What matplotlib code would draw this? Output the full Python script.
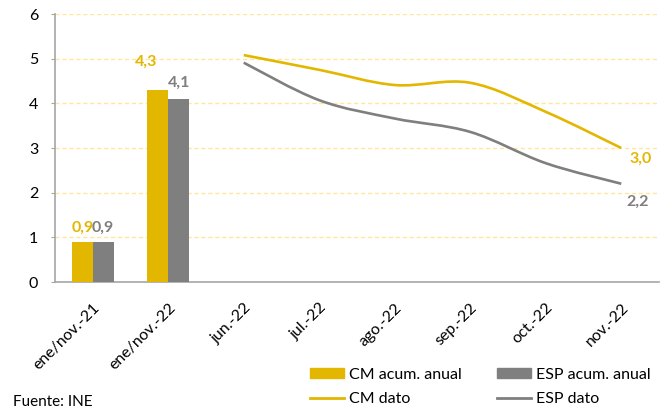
import numpy as np
import matplotlib.pyplot as plt
from matplotlib.path import Path
from matplotlib.patches import PathPatch, Patch
from matplotlib.lines import Line2D
import matplotlib.transforms as mtransforms

plt.rcParams['font.family'] = ['Lato', 'DejaVu Sans']

# data
categories = ['ene/nov.-21', 'ene/nov.-22', 'jun.-22', 'jul.-22', 'ago.-22',
              'sep.-22', 'oct.-22', 'nov.-22']
cm_acum = [0.9, 4.3]
esp_acum = [0.9, 4.1]
cm_dato = [5.08, 4.75, 4.41, 4.46, 3.81, 3.0]
esp_dato = [4.91, 4.07, 3.66, 3.36, 2.66, 2.2]

YELLOW = '#E3B700'
GRAY = '#7F7F7F'


def smooth_path(xs, ys):
    # Excel-style smoothed line: cubic bezier segments (Catmull-Rom control points)
    pts = np.column_stack([xs, ys]).astype(float)
    n = len(pts)
    verts = [pts[0]]
    codes = [Path.MOVETO]
    for i in range(n - 1):
        p0 = pts[i - 1] if i > 0 else pts[i]
        p1 = pts[i]
        p2 = pts[i + 1]
        p3 = pts[i + 2] if i + 2 < n else pts[i + 1]
        c1 = p1 + (p2 - p0) / 6.0
        c2 = p2 - (p3 - p1) / 6.0
        verts += [c1, c2, p2]
        codes += [Path.CURVE4] * 3
    return Path(verts, codes)


fig = plt.figure(figsize=(6.65, 4.11), dpi=100)
ax = fig.add_axes([55 / 665, 1 - 282 / 411, 604 / 665, 268 / 411])

x = np.arange(len(categories))
w = 0.278
bx = x[:len(cm_acum)]
ax.bar(bx - w / 2, cm_acum, w, color=YELLOW, zorder=3)
ax.bar(bx + w / 2, esp_acum, w, color=GRAY, zorder=3)

lx = x[len(cm_acum):]
for vals, col in [(cm_dato, YELLOW), (esp_dato, GRAY)]:
    ax.add_patch(PathPatch(smooth_path(lx, vals), facecolor='none', edgecolor=col,
                           lw=1.9, capstyle='butt', zorder=4))

# data labels
lab_kw = dict(textcoords='offset pixels', ha='center', va='center',
              fontsize=11.5, fontweight='bold')
ax.annotate('0,9', (bx[0] - w / 2, cm_acum[0]), xytext=(0, 14), color=YELLOW, **lab_kw)
ax.annotate('0,9', (bx[0] + w / 2, esp_acum[0]), xytext=(0, 14), color=GRAY, **lab_kw)
ax.annotate('4,3', (bx[1] - w / 2, cm_acum[1]), xytext=(-12, 28), color=YELLOW, **lab_kw)
ax.annotate('4,1', (bx[1] + w / 2, esp_acum[1]), xytext=(0, 16), color=GRAY, **lab_kw)
ax.annotate('3,0', (lx[-1], cm_dato[-1]), xytext=(19, -11), color=YELLOW, **lab_kw)
ax.annotate('2,2', (lx[-1], esp_dato[-1]), xytext=(16, -18), color=GRAY, **lab_kw)

ax.set_xlim(-0.5, len(categories) - 0.5)
ax.set_ylim(0, 6)
ax.set_yticks(range(0, 7))
ax.grid(axis='y', color='#FFE699', linestyle=(0, (3, 2)), lw=1.0, zorder=0)
ax.set_axisbelow(True)

for s in ['top', 'right']:
    ax.spines[s].set_visible(False)
ax.spines['left'].set_color('#A6A6A6')
ax.spines['bottom'].set_color('#A6A6A6')
ax.spines['left'].set_linewidth(1.2)
ax.spines['bottom'].set_linewidth(1.2)

ax.tick_params(axis='y', length=3, color='#A6A6A6', labelsize=11.5, pad=9)
ax.tick_params(axis='x', length=0, labelsize=11.5, pad=17)
ax.set_xticks(x)
ax.set_xticklabels(categories, rotation=45, ha='right', va='center',
                   rotation_mode='anchor')
offset = mtransforms.ScaledTranslation(5 / 100, 0, fig.dpi_scale_trans)
for lbl in ax.get_xticklabels():
    lbl.set_transform(lbl.get_transform() + offset)

handles = [Patch(color=YELLOW), Line2D([], [], color=YELLOW, lw=2),
           Patch(color=GRAY), Line2D([], [], color=GRAY, lw=2)]
labels = ['CM acum. anual', 'CM dato', 'ESP acum. anual', 'ESP dato']
fig.legend(handles, labels, ncol=2, loc='upper left',
           bbox_to_anchor=(302 / 665, 1 - 360 / 411), frameon=False,
           fontsize=11.5, handlelength=2.1, handleheight=0.6,
           handletextpad=0.35, columnspacing=2.2, labelspacing=0.65, borderpad=0)

fig.text(13 / 665, 1 - 402 / 411, 'Fuente: INE', fontsize=11, va='center', ha='left')

fig.savefig('out.png', dpi=100)
